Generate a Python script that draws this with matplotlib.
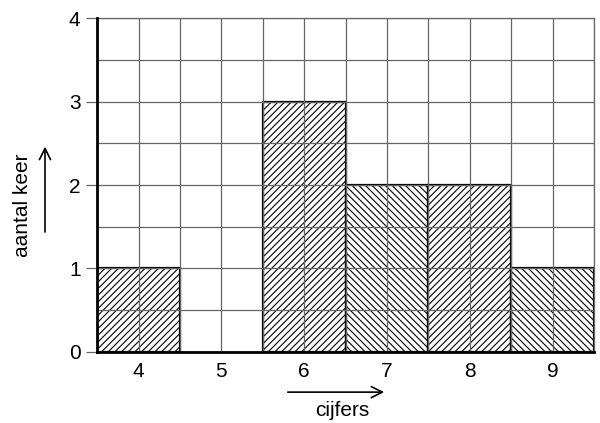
import matplotlib.pyplot as plt
from matplotlib.ticker import MultipleLocator

plt.rcParams['font.family'] = ['Liberation Sans', 'DejaVu Sans']
plt.rcParams['hatch.linewidth'] = 0.8
plt.rcParams['hatch.color'] = '#333333'

cijfers = [4, 5, 6, 7, 8, 9]
aantal = [1, 0, 3, 2, 2, 1]
hatches = ['/////', '/////', '/////', '\\\\\\\\\\', '/////', '\\\\\\\\\\']
y_ticks = [0, 1, 2, 3, 4]

fig = plt.figure(figsize=(6.0, 4.23), dpi=100)
ax = fig.add_axes([0.162, 0.168, 0.828, 0.789])

for x, h, hatch in zip(cijfers, aantal, hatches):
    if h > 0:
        ax.bar(x, h, width=1.0, color='white', edgecolor='black',
               linewidth=1.6, hatch=hatch, zorder=1)

ax.set_xlim(3.5, 9.5)
ax.set_ylim(0, 4)
ax.xaxis.set_minor_locator(MultipleLocator(0.5))
ax.yaxis.set_minor_locator(MultipleLocator(0.5))
ax.set_xticks(cijfers)
ax.set_yticks(y_ticks)
ax.grid(which='both', color='#666666', linewidth=0.9, zorder=2)
ax.set_axisbelow(False)

ax.tick_params(axis='x', which='both', length=0, pad=7, labelsize=15)
ax.tick_params(axis='y', which='major', length=8, width=0.9, color='#666666',
               pad=4, labelsize=15)
ax.tick_params(axis='y', which='minor', length=0)

for side in ['left', 'bottom']:
    ax.spines[side].set_linewidth(2.0)
    ax.spines[side].set_zorder(5)
for side in ['top', 'right']:
    ax.spines[side].set_color('#666666')
    ax.spines[side].set_linewidth(0.9)

# axis labels with arrows, as in the reference
fig.text(0.037, 0.515, 'aantal keer', rotation=90, ha='center', va='center', fontsize=15)
fig.add_artist(plt.Annotation('', xy=(0.075, 0.66), xytext=(0.075, 0.445),
                              xycoords='figure fraction',
                              arrowprops=dict(arrowstyle='->', lw=1.2, color='black',
                                              mutation_scale=20)))
fig.text(0.57, 0.03, 'cijfers', ha='center', va='center', fontsize=15)
fig.add_artist(plt.Annotation('', xy=(0.645, 0.073), xytext=(0.475, 0.073),
                              xycoords='figure fraction',
                              arrowprops=dict(arrowstyle='->', lw=1.2, color='black',
                                              mutation_scale=20)))

fig.savefig('out.png', dpi=100)
